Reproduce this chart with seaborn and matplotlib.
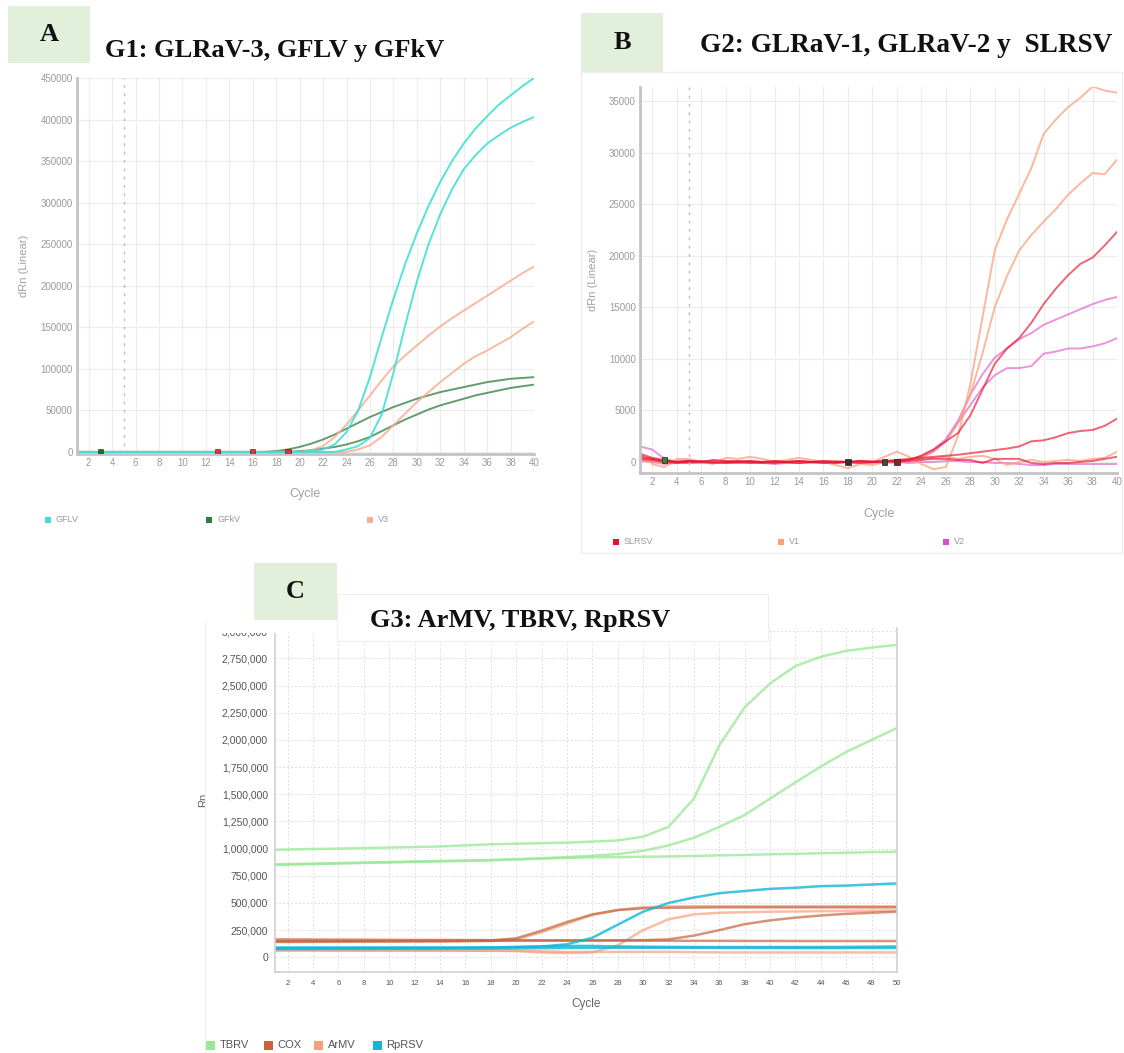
import pandas as pd
import seaborn as sns
import matplotlib.pyplot as plt
from matplotlib.patches import Rectangle
from matplotlib.ticker import FuncFormatter

W, H = 1124, 1053

# ---------------- data: panel A (G1) ----------------
a_cycles = list(range(1, 41))
a_gflv_1 = [0, 0, 0, 0, 0, 0, 0, 0, 0, 0, 0, 0, 0, 0, 0, 0, 0, 0, 0, 0,
            1000, 3000, 9000, 24000, 50000, 90000, 138000, 184000, 226000, 263000,
            296000, 325000, 350000, 371000, 389000, 404000, 418000, 429000, 440000, 450000]
a_gflv_2 = [0, 0, 0, 0, 0, 0, 0, 0, 0, 0, 0, 0, 0, 0, 0, 0, 0, 0, 0, 0,
            0, 0, 0, 3000, 7000, 17000, 45000, 95000, 152000, 205000,
            250000, 286000, 316000, 340000, 357000, 371000, 381000, 390000, 397000, 403000]
a_v3_1 = [0, 0, 0, 0, 0, 0, 0, 0, 0, 0, 0, 0, 0, 0, 0, 0, 0, 0, 0, 0,
          2000, 7000, 18000, 33000, 50000, 68000, 86000, 103000, 116000, 128000,
          140000, 151000, 161000, 170000, 179000, 188000, 197000, 206000, 215000, 223000]
a_v3_2 = [0, 0, 0, 0, 0, 0, 0, 0, 0, 0, 0, 0, 0, 0, 0, 0, 0, 0, 0, 0,
          0, 0, 0, 0, 3000, 8000, 18000, 32000, 46000, 60000,
          72000, 84000, 95000, 106000, 115000, 122000, 130000, 138000, 148000, 157000]
a_gfkv_1 = [0, 0, 0, 0, 0, 0, 0, 0, 0, 0, 0, 0, 0, 0, 0, 0, 0, 1000, 3000, 6000,
            10000, 15000, 21000, 28000, 35000, 42000, 48000, 54000, 59000, 64000,
            68000, 72000, 75000, 78000, 81000, 84000, 86000, 88000, 89000, 90000]
a_gfkv_2 = [0, 0, 0, 0, 0, 0, 0, 0, 0, 0, 0, 0, 0, 0, 0, 0, 0, 0, 0, 1000,
            2000, 4000, 6000, 9000, 13000, 18000, 25000, 32000, 39000, 45000,
            51000, 56000, 60000, 64000, 68000, 71000, 74000, 77000, 79000, 81000]
a_ct_cycles = [3, 13, 16, 19]
a_ct_values = [0, 0, 0, 0]
a_ct_colors = ["#1e6b2a", "#e0303a", "#e0303a", "#e0303a"]

# ---------------- data: panel B (G2) ----------------
b_cycles = list(range(1, 41))
b_v1_a = [600, 300, 0, 100, 200, 0, -100, 0, 100, 0, -100, 0, 100, 0, -100, 0, 100, 0, -100, 0,
          500, 1000, 500, -200, -700, -500, 2500, 7500, 14000, 20500,
          23500, 26000, 28500, 31800, 33200, 34400, 35300, 36400, 36000, 35800]
b_v1_b = [200, 100, -100, 0, 100, 0, 0, 100, 0, -100, 0, 100, 0, 0, -100, 0, 100, 0, 0, 100,
          0, 100, 200, 500, 1000, 2000, 3800, 6500, 10500, 15000,
          18000, 20500, 22000, 23300, 24500, 25900, 27000, 28000, 27900, 29300]
b_v1_c = [800, -200, -500, 300, 300, 0, -200, 400, 300, 500, 300, 0, 200, 400, 200, 0, -300, -600, -200, -300,
          0, -100, 100, 300, 400, 500, 300, 500, 600, 300,
          -300, 0, 200, 0, 100, 200, 100, 300, 400, 1000]
b_slrsv_a = [300, 200, 0, -100, 0, 100, 0, -100, 0, 100, 0, -100, 0, 100, 0, 0, -100, 0, 100, 0,
             0, 100, 200, 600, 1200, 2000, 2800, 4500, 7000, 9500,
             11000, 12000, 13500, 15300, 16800, 18100, 19200, 19800, 21000, 22300]
b_slrsv_b = [500, 300, 100, 0, 100, 0, -100, 0, 100, 0, -100, 0, 0, 100, 0, -100, 0, 0, 100, 0,
             100, 200, 300, 400, 500, 600, 700, 850, 1000, 1150,
             1300, 1500, 2000, 2100, 2400, 2800, 3000, 3100, 3500, 4200]
b_slrsv_c = [800, 400, 200, 0, 100, 0, 200, 100, 0, -100, 0, 100, 0, -100, 0, 100, 0, 0, -100, 0,
             100, 0, 100, 200, 300, 300, 200, 200, -100, 300,
             300, 300, -100, -200, -100, -100, 0, 100, 300, 500]
b_v2_a = [200, 100, 0, 0, -100, 0, 100, 0, -100, 0, 0, 100, 0, -100, 0, 0, 100, 0, 0, 100,
          0, 100, 200, 600, 1200, 2200, 4000, 6500, 8500, 10100,
          11000, 11900, 12500, 13300, 13800, 14300, 14800, 15300, 15700, 16000]
b_v2_b = [100, 0, -200, -100, 0, 0, -100, 0, 0, 100, 0, 0, -100, 0, 0, 100, 0, 0, -100, 0,
          0, 100, 200, 400, 1000, 2000, 3800, 5500, 7200, 8400,
          9100, 9100, 9300, 10500, 10700, 11000, 11000, 11200, 11500, 12000]
b_v2_c = [1500, 1200, 300, 0, -100, -100, 0, -100, -100, 0, -100, -200, -100, -100, 0, -100, -100, 0, -100, -100,
          -100, 0, -100, 0, 0, 100, 100, 0, 0, -100,
          -100, -200, -300, -300, -200, -200, -200, -200, -200, -200]
b_ct_cycles = [3, 18, 21, 22]
b_ct_values = [200, 0, 0, 0]
b_ct_colors = ["#2e8b3a", "#333333", "#444444", "#8a2030"]

# ---------------- data: panel C (G3) ----------------
c_cycles = [1, 2, 4, 6, 8, 10, 12, 14, 16, 18, 20, 22, 24, 26, 28, 30, 32, 34, 36, 38, 40, 42, 44, 46, 48, 50]
c_tbrv_a = [990000, 992000, 997000, 1000000, 1005000, 1010000, 1015000, 1020000, 1030000, 1040000,
            1045000, 1050000, 1055000, 1065000, 1075000, 1110000, 1200000, 1460000, 1950000, 2300000,
            2520000, 2680000, 2765000, 2820000, 2850000, 2875000]
c_tbrv_b = [855000, 857000, 862000, 867000, 872000, 877000, 882000, 886000, 890000, 895000,
            903000, 912000, 922000, 935000, 950000, 980000, 1030000, 1100000, 1200000, 1310000,
            1460000, 1610000, 1755000, 1890000, 2000000, 2110000]
c_tbrv_c = [850000, 853000, 858000, 863000, 868000, 873000, 878000, 883000, 888000, 893000,
            900000, 908000, 915000, 920000, 922000, 925000, 928000, 932000, 938000, 942000,
            948000, 952000, 958000, 963000, 968000, 972000]
c_cox_a = [150000, 150000, 150000, 150000, 150000, 150000, 150000, 150000, 152000, 155000,
           175000, 245000, 325000, 395000, 435000, 452000, 456000, 458000, 460000, 460000,
           460000, 460000, 460000, 460000, 460000, 460000]
c_cox_b = [145000, 145000, 146000, 147000, 148000, 149000, 150000, 150000, 151000, 152000,
           152000, 153000, 154000, 155000, 156000, 158000, 165000, 200000, 250000, 305000,
           340000, 365000, 385000, 400000, 410000, 420000]
c_cox_c = [165000, 165000, 164000, 163000, 162000, 161000, 160000, 160000, 159000, 158000,
           158000, 157000, 156000, 155000, 155000, 154000, 153000, 152000, 152000, 151000,
           151000, 150000, 150000, 150000, 150000, 150000]
c_armv_a = [60000, 60000, 60000, 60000, 60000, 60000, 60000, 60000, 60000, 60000,
            58000, 45000, 40000, 45000, 110000, 250000, 350000, 395000, 410000, 415000,
            420000, 422000, 425000, 427000, 429000, 430000]
c_armv_b = [140000, 140000, 141000, 142000, 143000, 144000, 145000, 146000, 148000, 150000,
            165000, 230000, 310000, 390000, 435000, 460000, 468000, 470000, 470000, 470000,
            470000, 470000, 470000, 470000, 470000, 470000]
c_armv_c = [70000, 70000, 68000, 66000, 65000, 64000, 63000, 62000, 61000, 60000,
            60000, 55000, 50000, 50000, 50000, 50000, 50000, 48000, 45000, 45000,
            45000, 45000, 45000, 45000, 45000, 45000]
c_rprsv_a = [90000, 90000, 90000, 90000, 90000, 90000, 90000, 90000, 90000, 92000,
             95000, 100000, 120000, 180000, 300000, 420000, 500000, 550000, 590000, 610000,
             630000, 640000, 655000, 660000, 670000, 680000]
c_rprsv_b = [85000, 85000, 86000, 86000, 87000, 87000, 88000, 88000, 89000, 90000,
             95000, 100000, 105000, 105000, 100000, 98000, 96000, 95000, 95000, 95000,
             95000, 95000, 95000, 96000, 98000, 100000]
c_rprsv_c = [75000, 76000, 76000, 77000, 77000, 78000, 78000, 79000, 80000, 80000,
             82000, 84000, 86000, 88000, 88000, 88000, 88000, 87000, 86000, 86000,
             86000, 85000, 85000, 85000, 86000, 87000]

a_colors = {"GFLV": "#3fe0d6", "GFkV": "#2f7d3c", "V3": "#f9ad93"}
b_colors = {"SLRSV": "#e8102e", "V1": "#f9a07e", "V2": "#e04cc8"}
c_colors = {"TBRV": "#98e896", "COX": "#c4653f", "ArMV": "#f7a07e", "RpRSV": "#12b6d8"}


def long_df(curves):
    rows = []
    for target, well, xs, ys in curves:
        for x, y in zip(xs, ys):
            rows.append({"cycle": x, "value": y, "target": target, "well": well})
    return pd.DataFrame(rows)


df_a = long_df([
    ("GFkV", "a5", a_cycles, a_gfkv_1), ("GFkV", "a6", a_cycles, a_gfkv_2),
    ("V3", "a3", a_cycles, a_v3_1), ("V3", "a4", a_cycles, a_v3_2),
    ("GFLV", "a1", a_cycles, a_gflv_1), ("GFLV", "a2", a_cycles, a_gflv_2),
])
df_b = long_df([
    ("V2", "b7", b_cycles, b_v2_c), ("V1", "b3", b_cycles, b_v1_c), ("SLRSV", "b6", b_cycles, b_slrsv_c),
    ("V2", "b8", b_cycles, b_v2_b), ("V2", "b9", b_cycles, b_v2_a),
    ("V1", "b1", b_cycles, b_v1_a), ("V1", "b2", b_cycles, b_v1_b),
    ("SLRSV", "b4", b_cycles, b_slrsv_a), ("SLRSV", "b5", b_cycles, b_slrsv_b),
])
df_c = long_df([
    ("TBRV", "c1", c_cycles, c_tbrv_a), ("TBRV", "c2", c_cycles, c_tbrv_b), ("TBRV", "c3", c_cycles, c_tbrv_c),
    ("ArMV", "c7", c_cycles, c_armv_a), ("ArMV", "c8", c_cycles, c_armv_b), ("ArMV", "c9", c_cycles, c_armv_c),
    ("COX", "c4", c_cycles, c_cox_a), ("COX", "c5", c_cycles, c_cox_b), ("COX", "c6", c_cycles, c_cox_c),
    ("RpRSV", "c10", c_cycles, c_rprsv_a), ("RpRSV", "c11", c_cycles, c_rprsv_b), ("RpRSV", "c12", c_cycles, c_rprsv_c),
])

sns.set_theme(style="white")
plt.rcParams["font.family"] = ["Liberation Sans", "DejaVu Sans"]

fig = plt.figure(figsize=(W / 100, H / 100), dpi=100)


def fx(x):
    return x / W


def fy(y):
    return 1 - y / H


def axes_px(x0, y0, x1, y1):
    return fig.add_axes([fx(x0), fy(y1), (x1 - x0) / W, (y1 - y0) / H])


def draw_lines(ax, df, colors, alphas, lw):
    for target in df["target"].unique():
        sub = df[df["target"] == target]
        sns.lineplot(data=sub, x="cycle", y="value", units="well", estimator=None,
                     color=colors[target], alpha=alphas[target], linewidth=lw,
                     legend=False, ax=ax)


def style_pcr_axes(ax, xmax, ymin, ymax, ystep, tick_color="#9a9a9a"):
    ax.set_xlim(1, xmax)
    ax.set_ylim(ymin, ymax)
    ax.set_xticks(range(2, xmax + 1, 2))
    ax.set_yticks(range(0, int(ymax) + 1, ystep))
    ax.grid(True, color="#ececec", linewidth=0.8)
    for s in ["top", "right"]:
        ax.spines[s].set_visible(False)
    for s in ["left", "bottom"]:
        ax.spines[s].set_color("#c4c4c4")
        ax.spines[s].set_linewidth(2)
    ax.tick_params(axis="both", length=0, labelsize=7, labelcolor=tick_color, pad=3)
    ax.axvline(5, color="#bdbdbd", linestyle=(0, (2, 4)), linewidth=1)


def green_box(x0, y0, x1, y1, letter):
    fig.add_artist(Rectangle((fx(x0), fy(y1)), (x1 - x0) / W, (y1 - y0) / H,
                             transform=fig.transFigure, facecolor="#e2efda", edgecolor="none", zorder=6))
    fig.text(fx((x0 + x1) / 2), fy((y0 + y1) / 2), letter, ha="center", va="center",
             family=["Liberation Serif"], weight="bold", fontsize=19, color="#111111", zorder=7)


def legend_row(entries, y, size, fontsize, color="#9a9a9a"):
    for label, col, x in entries:
        fig.add_artist(Rectangle((fx(x - size / 2), fy(y + size / 2)), size / W, size / H,
                                 transform=fig.transFigure, facecolor=col, edgecolor="none"))
        fig.text(fx(x + size / 2 + 5), fy(y), label, ha="left", va="center",
                 fontsize=fontsize, color=color)


title_kw = dict(family=["Liberation Serif"], weight="bold", color="#111111",
                va="center", ha="left")

# ---------------- panel A ----------------
ax_a = axes_px(77, 78, 534, 454)
draw_lines(ax_a, df_a, a_colors, {"GFLV": 0.9, "GFkV": 0.75, "V3": 0.85}, 1.4)
ax_a.scatter(a_ct_cycles, a_ct_values, c=a_ct_colors, marker="s", s=14, zorder=5, edgecolors="#222222", linewidths=0.4)
style_pcr_axes(ax_a, 40, -2500, 450000, 50000)
ax_a.set_xlabel("Cycle", fontsize=9, color="#a0a0a0")
ax_a.set_ylabel("dRn (Linear)", fontsize=8, color="#a0a0a0")
ax_a.xaxis.set_label_coords(0.5, -0.09)
ax_a.yaxis.set_label_coords(-0.105, 0.5)
green_box(8, 6, 90, 63, "A")
fig.text(fx(105), fy(50), "G1: GLRaV-3, GFLV y GFkV", fontsize=19, **title_kw)
legend_row([("GFLV", a_colors["GFLV"], 48), ("GFkV", a_colors["GFkV"], 209), ("V3", a_colors["V3"], 370)],
           520, 6, 6.5)

# ---------------- panel B ----------------
fig.add_artist(Rectangle((fx(581), fy(553)), (1122 - 581) / W, (553 - 72) / H, transform=fig.transFigure,
                         facecolor="none", edgecolor="#eeeeee", linewidth=1))
ax_b = axes_px(640, 87, 1117, 473)
draw_lines(ax_b, df_b, b_colors, {"SLRSV": 0.65, "V1": 0.75, "V2": 0.6}, 1.4)
ax_b.scatter(b_ct_cycles, b_ct_values, c=b_ct_colors, marker="s", s=16, zorder=5, edgecolors="#222222", linewidths=0.5)
style_pcr_axes(ax_b, 40, -1070, 36350, 5000)
ax_b.set_xlabel("Cycle", fontsize=9, color="#a0a0a0")
ax_b.set_ylabel("dRn (Linear)", fontsize=8, color="#a0a0a0")
ax_b.xaxis.set_label_coords(0.5, -0.09)
ax_b.yaxis.set_label_coords(-0.088, 0.5)
green_box(581, 13, 663, 72, "B")
fig.text(fx(700), fy(46), "G2: GLRaV-1, GLRaV-2 y  SLRSV", fontsize=19.6, **title_kw)
legend_row([("SLRSV", b_colors["SLRSV"], 616), ("V1", b_colors["V1"], 781), ("V2", b_colors["V2"], 946)],
           542, 6, 6.5)

# ---------------- panel C ----------------
fig.add_artist(Rectangle((fx(205), fy(1053)), 0.001, (1053 - 620) / H, transform=fig.transFigure,
                         facecolor="#f0f0f0", edgecolor="none"))
ax_c = axes_px(275, 628, 897, 972)
draw_lines(ax_c, df_c, c_colors, {"TBRV": 0.75, "COX": 0.7, "ArMV": 0.7, "RpRSV": 0.8}, 1.8)
ax_c.set_xlim(1, 50)
ax_c.set_ylim(-135000, 3030000)
ax_c.set_xticks(range(2, 51, 2))
ax_c.set_yticks(range(0, 3000001, 250000))
ax_c.yaxis.set_major_formatter(FuncFormatter(lambda v, p: f"{v:,.0f}"))
ax_c.grid(True, color="#dedede", linestyle=(0, (2, 2)), linewidth=0.7)
ax_c.spines["top"].set_visible(False)
for s in ["left", "bottom", "right"]:
    ax_c.spines[s].set_color("#cfcfcf")
    ax_c.spines[s].set_linewidth(1.2)
ax_c.tick_params(axis="y", length=3, color="#9a9a9a", labelsize=7.5, labelcolor="#555555", pad=2)
ax_c.tick_params(axis="x", length=3, color="#9a9a9a", labelsize=5.5, labelcolor="#555555", pad=3)
ax_c.set_xlabel("Cycle", fontsize=8.5, color="#666666")
ax_c.set_ylabel("Rn", fontsize=8, color="#666666")
ax_c.xaxis.set_label_coords(0.5, -0.075)
ax_c.yaxis.set_label_coords(-0.108, 0.5)
# white title strip over the top of the plot (clips the top tick label as in the original)
fig.add_artist(Rectangle((fx(206), fy(633)), (768 - 206) / W, (633 - 594) / H, transform=fig.transFigure,
                         facecolor="white", edgecolor="none", zorder=5))
fig.add_artist(Rectangle((fx(337), fy(641)), (768 - 337) / W, (641 - 594) / H, transform=fig.transFigure,
                         facecolor="white", edgecolor="#eeeeee", linewidth=0.8, zorder=5))
green_box(254, 563, 337, 620, "C")
fig.text(fx(370), fy(620), "G3: ArMV, TBRV, RpRSV", zorder=8, fontsize=19, **title_kw)
legend_row([("TBRV", c_colors["TBRV"], 210), ("COX", c_colors["COX"], 268),
            ("ArMV", c_colors["ArMV"], 318), ("RpRSV", c_colors["RpRSV"], 377)],
           1045, 9, 8, color="#555555")

fig.savefig("out.png", dpi=100)
